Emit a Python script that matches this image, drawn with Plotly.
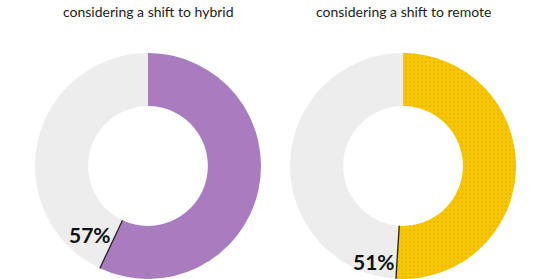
import math
import plotly.graph_objects as go

# ---- data ----
titles = ["considering a shift to hybrid", "considering a shift to remote"]
shares = [57, 51]            # percent considering
labels = ["57%", "51%"]
rest_label = "other"
main_label = "considering"

# ---- styling ----
W, H = 550, 279
main_colors = ["#a97bbf", "#f7c800"]
rest_color = "#ededed"
centers_px = [148, 403]      # x centres in pixels
cy_px = 166
R_px = 113
hole = 0.53
label_angle_offset = [15, 13]
label_r = [90, 100]

fig = go.Figure()
for i, (v, c) in enumerate(zip(shares, main_colors)):
    cx = centers_px[i]
    dom_x = [(cx - R_px) / W, (cx + R_px) / W]
    dom_y = [1 - (cy_px + R_px) / H, 1 - (cy_px - R_px) / H]
    marker = dict(colors=[c, rest_color], line=dict(width=0))
    if i == 1:
        marker["pattern"] = dict(shape=[".", ""], fgcolor="#e2a400",
                                 size=4, solidity=0.25, fillmode="overlay")
    fig.add_trace(go.Pie(
        values=[v, 100 - v], labels=[main_label, rest_label],
        sort=False, direction="clockwise", rotation=0,
        hole=hole, marker=marker, textinfo="none", hoverinfo="label+percent",
        domain=dict(x=dom_x, y=[max(0, dom_y[0]), min(1, dom_y[1])]),
        showlegend=False,
    ))
    # divider line at the end of the main slice
    theta = math.radians(v / 100 * 360)
    r_in, r_out = R_px * hole, R_px
    x0 = cx + r_in * math.sin(theta); y0 = cy_px - r_in * math.cos(theta)
    x1 = cx + r_out * math.sin(theta); y1 = cy_px - r_out * math.cos(theta)
    fig.add_shape(type="line", xref="paper", yref="paper",
                  x0=x0 / W, y0=1 - y0 / H, x1=x1 / W, y1=1 - y1 / H,
                  line=dict(color="#222222", width=1.3))
    # percentage label
    ta = math.radians(v / 100 * 360 + label_angle_offset[i])
    lx = cx + label_r[i] * math.sin(ta); ly = cy_px - label_r[i] * math.cos(ta)
    fig.add_annotation(x=lx / W, y=1 - ly / H, xref="paper", yref="paper",
                       text="<b>%s</b>" % labels[i], showarrow=False,
                       font=dict(family="Lato", size=21, color="#111111"),
                       xanchor="center", yanchor="middle")
    # title
    fig.add_annotation(x=cx / W, y=1 - 12 / H, xref="paper", yref="paper",
                       text=titles[i], showarrow=False,
                       font=dict(family="Lato", size=14, color="#222222"),
                       xanchor="center", yanchor="middle")

fig.update_layout(width=W, height=H, margin=dict(l=0, r=0, t=0, b=0),
                  paper_bgcolor="white", plot_bgcolor="white")
fig.write_html("out.html")
